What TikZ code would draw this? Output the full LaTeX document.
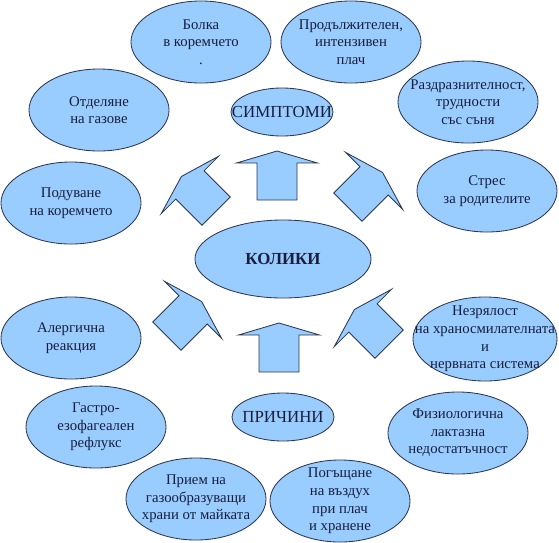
\documentclass[tikz,border=0pt]{standalone}
\usepackage{fontspec}
\setmainfont{Liberation Serif}
\usetikzlibrary{shapes.geometric}
\definecolor{bubblefill}{RGB}{153,204,255}
\definecolor{bubbleline}{RGB}{45,55,80}
\definecolor{bubbletext}{RGB}{25,30,60}
\tikzset{
  bubble/.style={ellipse,draw=bubbleline,fill=bubblefill,semithick,inner sep=0pt,minimum width=3.5cm,minimum height=2.05cm},
  txt/.style={align=center,text=bubbletext,font=\fontsize{10.5}{12.5}\selectfont,inner sep=0pt},
  bigtxt/.style={txt,font=\fontsize{12}{14}\selectfont},
  fatarrowstyle/.style={draw=bubbleline,fill=bubblefill,semithick,line join=miter}
}
\newcommand{\fatarrow}[3]{\path[fatarrowstyle,shift={(#1,#2)},rotate=#3] (-20,18.5) -- (-20,-18.5) -- (-40.5,-18.5) -- (0,-30.5) -- (40.5,-18.5) -- (20,-18.5) -- (20,18.5) -- cycle;}
\begin{document}
\begin{tikzpicture}[x=0.025cm,y=-0.025cm]
\useasboundingbox (0,0) rectangle (559,542);

\node[bubble] (bolka) at (201,42) {};
\node[bubble] (plach) at (351,42) {};
\node[bubble] (razdr) at (468,102) {};
\node[bubble] (gazove) at (99,110) {};
\node[bubble,minimum width=2.55cm,minimum height=1.2cm] (simptomi) at (282,112) {};
\node[bubble] (poduvane) at (71,203) {};
\node[bubble] (stres) at (487,191) {};
\node[bubble,minimum width=4.4cm,minimum height=1.95cm] (koliki) at (283,259) {};
\node[bubble] (alerg) at (71,338) {};
\node[bubble,minimum width=3.6cm,minimum height=2.1cm] (nezrel) at (485,339) {};
\node[bubble] (gastro) at (96,427) {};
\node[bubble,minimum width=2.55cm,minimum height=1.2cm] (prichini) at (283,417) {};
\node[bubble] (fiziol) at (458,433) {};
\node[bubble] (priem) at (196,499) {};
\node[bubble] (poglasht) at (340,501) {};

\node[txt] (bolkaT) at (bolka) {Болка\\в коремчето\\.};
\node[txt] (plachT) at (plach) {Продължителен,\\интензивен\\плач};
\node[txt] (razdrT) at (razdr) {Раздразнителност,\\трудности\\със съня};
\node[txt] (gazoveT) at (gazove) {Отделяне\\на газове};
\node[bigtxt] (simptomiT) at (simptomi) {СИМПТОМИ};
\node[txt] (poduvaneT) at (poduvane) {Подуване\\на коремчето};
\node[txt] (stresT) at (stres) {Стрес\\за родителите};
\node[bigtxt,font=\fontsize{12}{14}\selectfont\bfseries] (kolikiT) at (koliki) {КОЛИКИ};
\node[txt] (alergT) at (alerg) {Алергична\\реакция};
\node[txt] (nezrelT) at (nezrel) {Незрялост\\на храносмилателната\\и\\нервната система};
\node[txt] (gastroT) at (gastro) {Гастро-\\езофагеален\\рефлукс};
\node[bigtxt] (prichiniT) at (prichini) {ПРИЧИНИ};
\node[txt] (fiziolT) at (fiziol) {Физиологична\\лактазна\\недостатъчност};
\node[txt] (priemT) at (priem) {Прием на\\газообразуващи\\храни от майката};
\node[txt] (poglashtT) at (poglasht) {Погъщане\\на въздух\\при плач\\и хранене};

\fatarrow{277}{181.5}{0}
\fatarrow{203}{198}{45}
\fatarrow{361}{194}{-45}
\fatarrow{180}{323}{-45}
\fatarrow{376}{331}{45}
\fatarrow{279}{353.5}{0}
\end{tikzpicture}
\end{document}
